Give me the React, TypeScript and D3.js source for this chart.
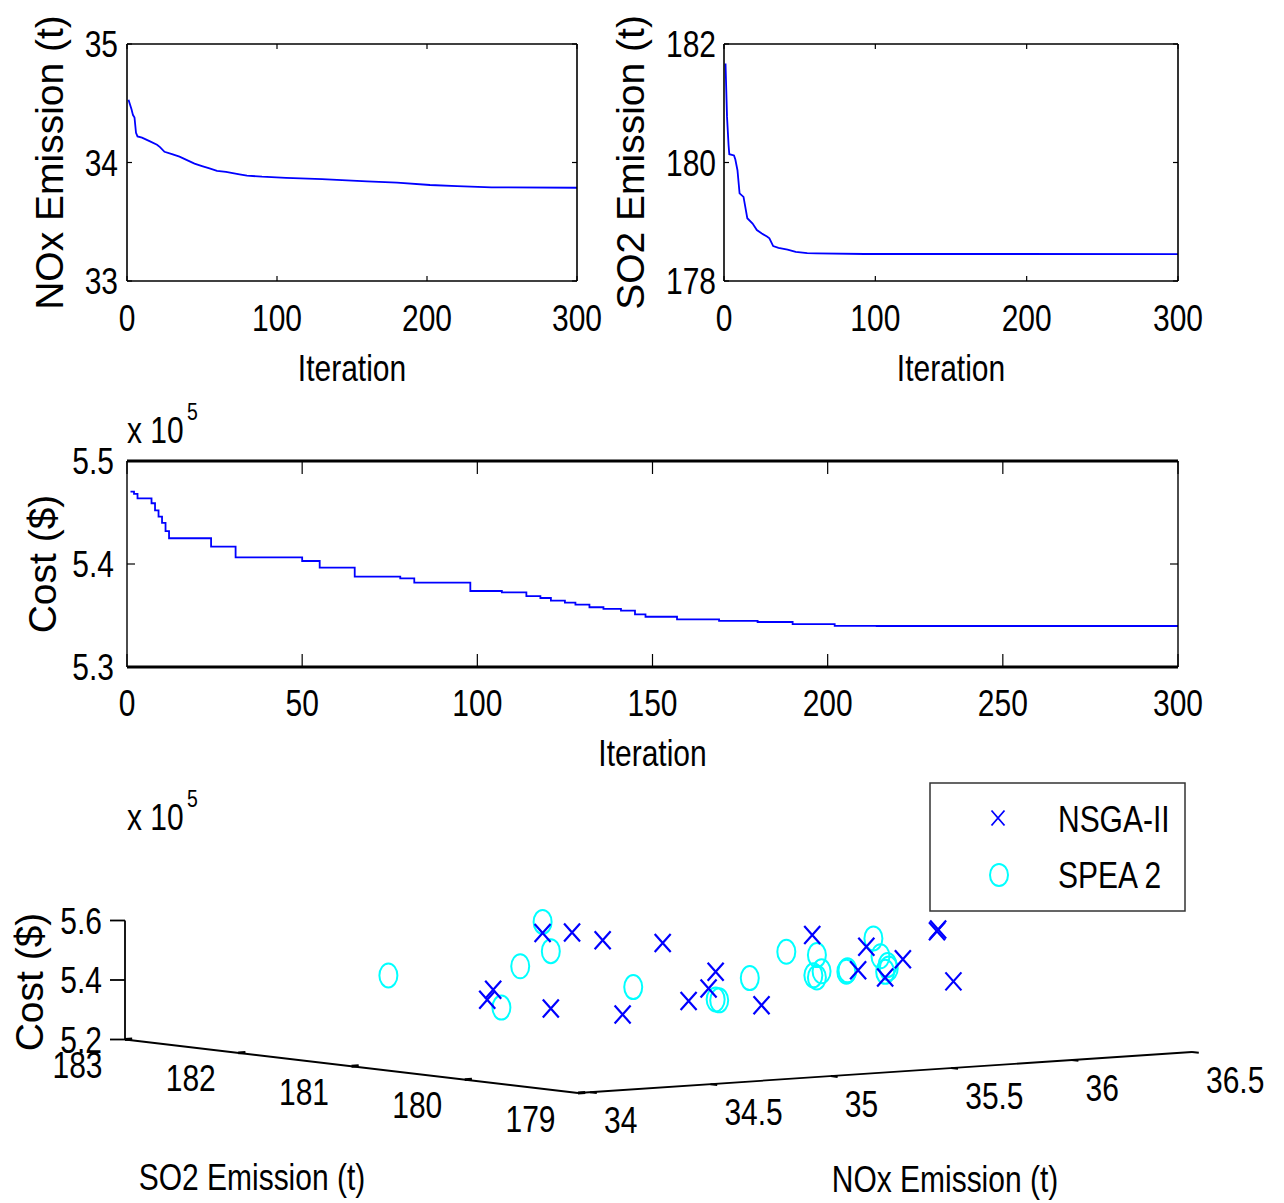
import React from 'react';
import * as d3 from 'd3';

const FONT = '"Liberation Sans", Arial, Helvetica, sans-serif';
const SX = 0.81;
const FS = 37;

// ---------- Convergence data ----------
const noxIter = [1, 3, 4, 5, 6, 7, 10, 15, 20, 22, 25, 30, 35, 40, 45, 50, 55, 60, 66, 75, 80, 90, 106, 130, 160, 180, 202, 220, 243, 300];
const noxValue = [34.53, 34.45, 34.4, 34.38, 34.25, 34.22, 34.21, 34.18, 34.15, 34.13, 34.09, 34.07, 34.05, 34.02, 33.99, 33.97, 33.95, 33.93, 33.92, 33.9, 33.89, 33.88, 33.87, 33.86, 33.84, 33.83, 33.81, 33.8, 33.79, 33.787];

const so2Iter = [1, 2, 3, 3.5, 6.6, 7.5, 8.9, 10.3, 12.9, 15.4, 18.9, 21.7, 25, 28.4, 30, 32.5, 36, 42, 47.4, 55, 61, 93, 300];
const so2Value = [181.67, 180.77, 180.3, 180.14, 180.12, 180.05, 179.87, 179.48, 179.42, 179.06, 178.97, 178.86, 178.8, 178.75, 178.72, 178.59, 178.56, 178.53, 178.49, 178.47, 178.465, 178.456, 178.455];

// cost in units of 10^5 $
const costIter = [1, 2, 3, 7, 8, 9, 10, 11, 12, 24, 31, 50, 55, 65, 78, 82, 98, 107, 114, 118, 121, 125, 128, 132, 136, 141, 145, 148, 157, 169, 180, 190, 202, 214, 300];
const costValue = [5.4702, 5.468, 5.4638, 5.459, 5.452, 5.446, 5.44, 5.432, 5.425, 5.4168, 5.4065, 5.4029, 5.3964, 5.3877, 5.386, 5.3819, 5.3738, 5.3725, 5.3689, 5.367, 5.3644, 5.3625, 5.3605, 5.358, 5.3565, 5.3547, 5.351, 5.3488, 5.3463, 5.3447, 5.3437, 5.3417, 5.34, 5.3398, 5.3398];

const iterTicks300 = [0, 100, 200, 300];
const iterTicks50 = [0, 50, 100, 150, 200, 250, 300];
const noxTicks = [33, 34, 35];
const so2Ticks = [178, 180, 182];
const costTicks = [5.3, 5.4, 5.5];

// ---------- Pareto fronts (NOx t, SO2 t, cost x10^5 $) ----------
const nsgaNox = [35.04, 35.12, 35.2, 35.36, 34.91, 34.89, 35.06, 35.25, 35.5, 35.48, 35.43, 35.62, 35.76, 35.9, 35.88, 36.0, 35.95, 36.09, 36.09, 36.13];
const nsgaSo2 = [181.63, 181.54, 181.44, 181.25, 181.79, 181.8, 181.6, 181.37, 181.08, 181.1, 181.17, 180.93, 180.78, 180.6, 180.63, 180.49, 180.54, 180.37, 180.38, 180.32];
const nsgaCost = [5.561, 5.562, 5.536, 5.527, 5.37, 5.337, 5.307, 5.287, 5.43, 5.374, 5.332, 5.318, 5.553, 5.514, 5.435, 5.472, 5.411, 5.572, 5.566, 5.398];

const speaNox = [34.63, 35.04, 35.06, 34.98, 34.93, 35.28, 35.5, 35.51, 35.59, 35.69, 35.77, 35.78, 35.76, 35.77, 35.85, 35.85, 35.92, 35.94, 35.96, 35.96, 35.95];
const speaSo2 = [182.12, 181.63, 181.6, 181.7, 181.76, 181.34, 181.08, 181.07, 180.97, 180.86, 180.76, 180.74, 180.77, 180.76, 180.67, 180.66, 180.58, 180.56, 180.54, 180.53, 180.54];
const speaCost = [5.418, 5.598, 5.5, 5.449, 5.31, 5.379, 5.337, 5.334, 5.409, 5.497, 5.486, 5.432, 5.418, 5.411, 5.43, 5.435, 5.542, 5.482, 5.452, 5.441, 5.43];

const so2Ticks3d = [179, 180, 181, 182, 183];
const noxTicks3d = [34, 34.5, 35, 35.5, 36, 36.5];
const costTicks3d = [5.2, 5.4, 5.6];

const legendLabels = ['NSGA-II', 'SPEA 2'];

function Txt({ x, y, anchor = 'middle', size = FS, sx = SX, children }: any) {
  return (
    <text transform={`translate(${x},${y}) scale(${sx},1)`} textAnchor={anchor} fontSize={size} fontFamily={FONT} fill="#000">
      {children}
    </text>
  );
}

function VTxt({ x, y, size = 39, children }: any) {
  return (
    <text transform={`translate(${x},${y}) rotate(-90)`} textAnchor="middle" fontSize={size} fontFamily={FONT} fill="#000">
      {children}
    </text>
  );
}

function LinePanel(p: any) {
  const { left, right, top, bottom, xDomain, xTicks, yDomain, yTicks, iters, values, step,
    xTickLen, yTickLen, tbWidth, sideWidth, yLabel, yLabelX, xTickBase, xLabelBase, yTickGap, fmt, exponent } = p;
  const x = d3.scaleLinear().domain(xDomain).range([left, right]);
  const y = d3.scaleLinear().domain(yDomain).range([bottom, top]);
  const pts = iters.map((it: number, i: number) => [it, values[i]] as [number, number]);
  const line = d3.line<[number, number]>()
    .x((d) => x(d[0]))
    .y((d) => y(d[1]))
    .curve(step ? d3.curveStepAfter : d3.curveLinear);
  return (
    <g>
      <path d={line(pts) || ''} fill="none" stroke="#0000ff" strokeWidth={1.8} />
      {xTicks.map((t: number) => (
        <g key={'xt' + t}>
          <line x1={x(t)} x2={x(t)} y1={bottom} y2={bottom - xTickLen} stroke="#000" strokeWidth={1.2} />
          <line x1={x(t)} x2={x(t)} y1={top} y2={top + xTickLen} stroke="#000" strokeWidth={1.2} />
          <Txt x={x(t)} y={xTickBase}>{String(t)}</Txt>
        </g>
      ))}
      {yTicks.map((t: number) => (
        <g key={'yt' + t}>
          <line x1={left} x2={left + yTickLen} y1={y(t)} y2={y(t)} stroke="#000" strokeWidth={1.2} />
          <line x1={right} x2={right - yTickLen} y1={y(t)} y2={y(t)} stroke="#000" strokeWidth={1.2} />
          <Txt x={left - yTickGap} y={y(t) + 13} anchor="end">{fmt ? fmt(t) : String(t)}</Txt>
        </g>
      ))}
      <line x1={left} x2={right} y1={top} y2={top} stroke="#000" strokeWidth={tbWidth} />
      <line x1={left} x2={right} y1={bottom} y2={bottom} stroke="#000" strokeWidth={tbWidth} />
      <line x1={left} x2={left} y1={top} y2={bottom} stroke="#000" strokeWidth={sideWidth} />
      <line x1={right} x2={right} y1={top} y2={bottom} stroke="#000" strokeWidth={sideWidth} />
      <Txt x={(left + right) / 2} y={xLabelBase}>Iteration</Txt>
      <VTxt x={yLabelX} y={(top + bottom) / 2}>{yLabel}</VTxt>
      {exponent && (
        <g>
          <Txt x={exponent[0]} y={exponent[1]} anchor="start">x 10</Txt>
          <Txt x={exponent[0] + 60} y={exponent[1] - 23} anchor="start" size={24}>5</Txt>
        </g>
      )}
    </g>
  );
}

// 3D projection built from linear scales
const ORIGIN = [578, 1093];
const so2X = d3.scaleLinear().domain([179, 183]).range([0, -453]);
const so2Y = d3.scaleLinear().domain([179, 183]).range([0, -53.5]);
const noxX = d3.scaleLinear().domain([33.95, 36.5]).range([0, 614]);
const noxY = d3.scaleLinear().domain([33.95, 36.5]).range([0, -41]);
const costZ = d3.scaleLinear().domain([5.2, 5.6]).range([0, -119]);
function project(n: number, s: number, c: number): [number, number] {
  return [ORIGIN[0] + noxX(n) + so2X(s), ORIGIN[1] + noxY(n) + so2Y(s) + costZ(c)];
}

function Cross({ x, y, w = 8, h = 9, sw = 2.2 }: any) {
  return (
    <path d={`M${x - w},${y - h}L${x + w},${y + h}M${x - w},${y + h}L${x + w},${y - h}`} stroke="#0000ff" strokeWidth={sw} fill="none" />
  );
}
function Ring({ x, y, rx = 9, ry = 12 }: any) {
  return <ellipse cx={x} cy={y} rx={rx} ry={ry} fill="none" stroke="#00ffff" strokeWidth={2} />;
}

function Scatter3D() {
  const nMin = 33.95, nMax = 36.5, sMin = 179, sMax = 183, cMin = 5.2, cMax = 5.6;
  const corner = project(nMin, sMin, cMin);
  const back = project(nMin, sMax, cMin);
  const nEnd = project(nMax, sMin, cMin);
  const zTop = project(nMin, sMax, cMax);
  return (
    <g>
      <line x1={back[0]} y1={back[1]} x2={corner[0]} y2={corner[1]} stroke="#000" strokeWidth={1.8} />
      <line x1={corner[0]} y1={corner[1]} x2={nEnd[0]} y2={nEnd[1]} stroke="#000" strokeWidth={1.8} />
      <line x1={back[0]} y1={back[1]} x2={zTop[0]} y2={zTop[1]} stroke="#000" strokeWidth={1.8} />
      {so2Ticks3d.map((t) => {
        const p = project(nMin, t, cMin);
        const q = project(nMin + 0.03, t, cMin);
        return (
          <g key={'s' + t}>
            <line x1={p[0]} y1={p[1]} x2={q[0]} y2={q[1]} stroke="#000" strokeWidth={3} />
            <Txt x={p[0] - 47.5} y={p[1] + 38.5}>{String(t)}</Txt>
          </g>
        );
      })}
      {noxTicks3d.map((t) => {
        const p = project(t, sMin, cMin);
        const q = project(t, sMin - 0.06, cMin);
        return (
          <g key={'n' + t}>
            <line x1={p[0]} y1={p[1]} x2={q[0]} y2={q[1]} stroke="#000" strokeWidth={2} />
            <Txt x={p[0] + 14} y={p[1] + 40.5} anchor="start">{String(t)}</Txt>
          </g>
        );
      })}
      {costTicks3d.map((t) => {
        const p = project(nMin, sMax, t);
        return (
          <g key={'c' + t}>
            <line x1={p[0] - 15} y1={p[1]} x2={p[0]} y2={p[1]} stroke="#000" strokeWidth={1.8} />
            <Txt x={p[0] - 23} y={p[1] + 13} anchor="end">{d3.format('.1f')(t)}</Txt>
          </g>
        );
      })}
      <Txt x={127} y={830} anchor="start">x 10</Txt>
      <Txt x={127 + 60} y={807} anchor="start" size={24}>5</Txt>
      <VTxt x={43} y={982}>Cost ($)</VTxt>
      <Txt x={252} y={1190}>SO2 Emission (t)</Txt>
      <Txt x={945} y={1192}>NOx Emission (t)</Txt>

      {speaNox.map((n, i) => {
        const [px, py] = project(n, speaSo2[i], speaCost[i]);
        return <Ring key={'sp' + i} x={px} y={py} />;
      })}
      {nsgaNox.map((n, i) => {
        const [px, py] = project(n, nsgaSo2[i], nsgaCost[i]);
        return <Cross key={'ns' + i} x={px} y={py} />;
      })}

      <rect x={930} y={783} width={255} height={128} fill="#fff" stroke="#333" strokeWidth={1.5} />
      <Cross x={998} y={818} w={6.5} h={7.5} sw={1.8} />
      <Ring x={999} y={875} rx={9} ry={11} />
      <Txt x={1058} y={832} anchor="start">{legendLabels[0]}</Txt>
      <Txt x={1058} y={888} anchor="start">{legendLabels[1]}</Txt>
    </g>
  );
}

export default function App() {
  return (
    <svg width={1284} height={1203} style={{ position: 'absolute', left: 0, top: 0, background: '#fff' }}>
      <rect x={0} y={0} width={1284} height={1203} fill="#fff" />
      <LinePanel left={127} right={577} top={44} bottom={281} xDomain={[0, 300]} xTicks={iterTicks300}
        yDomain={[33, 35]} yTicks={noxTicks} iters={noxIter} values={noxValue} step={false}
        xTickLen={5} yTickLen={5} tbWidth={1.6} sideWidth={1.6} yLabel="NOx Emission (t)" yLabelX={63}
        xTickBase={331} xLabelBase={381} yTickGap={9} />
      <LinePanel left={724} right={1178} top={44} bottom={281} xDomain={[0, 300]} xTicks={iterTicks300}
        yDomain={[178, 182]} yTicks={so2Ticks} iters={so2Iter} values={so2Value} step={false}
        xTickLen={5} yTickLen={5} tbWidth={1.6} sideWidth={1.6} yLabel="SO2 Emission (t)" yLabelX={644}
        xTickBase={331} xLabelBase={381} yTickGap={8} />
      <LinePanel left={127} right={1178} top={461} bottom={667} xDomain={[0, 300]} xTicks={iterTicks50}
        yDomain={[5.3, 5.5]} yTicks={costTicks} iters={costIter} values={costValue} step={true}
        xTickLen={13} yTickLen={8} tbWidth={3} sideWidth={1.4} yLabel="Cost ($)" yLabelX={56}
        xTickBase={716} xLabelBase={766} yTickGap={13} fmt={d3.format('.1f')} exponent={[127, 443]} />
      <Scatter3D />
    </svg>
  );
}
